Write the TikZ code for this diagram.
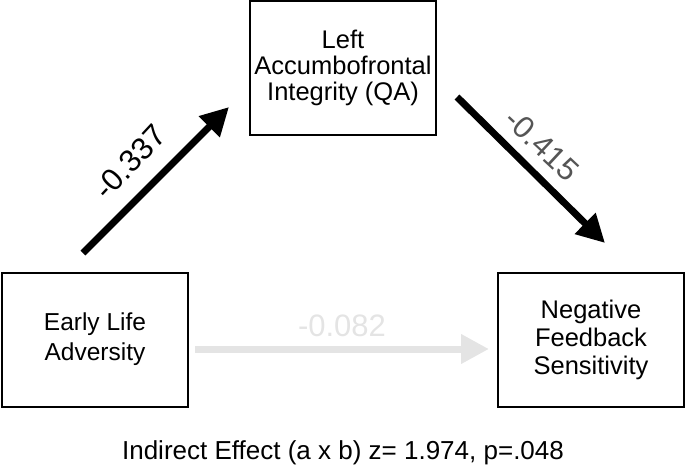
\documentclass[tikz,border=0pt]{standalone}
\usepackage{fontspec}
\setmainfont{Liberation Sans}
\usetikzlibrary{arrows.meta}
\definecolor{bpathgray}{HTML}{555555}
\definecolor{directgray}{HTML}{E4E4E4}
\tikzset{
  varbox/.style={draw, line width=2pt, minimum width=186pt, minimum height=134pt,
    align=center, inner sep=0pt, font=\fontsize{24.5}{27}\selectfont},
  patharrow/.style={line width=7pt, -{Triangle[length=28pt,width=28pt]}},
  coef/.style={font=\fontsize{31}{36}\selectfont, inner sep=0pt}
}
\begin{document}
\begin{tikzpicture}[x=1pt,y=-1pt]
  \useasboundingbox (0,0) rectangle (685,469);
  % the three variables
  \node[varbox, font=\fontsize{25.5}{26}\selectfont] (med) at (343,68) {Left\\Accumbofrontal\\Integrity (QA)};
  \node[varbox, font=\fontsize{24.5}{30}\selectfont] (ela) at (95,339.5) {Early Life\\Adversity};
  \node[varbox, font=\fontsize{25.5}{28}\selectfont] (nfs) at (591,339.5) {Negative\\Feedback\\Sensitivity};
  % arrow ends
  \coordinate (astart) at (83,253);
  \coordinate (aend) at (229,107);
  \coordinate (bstart) at (457,97);
  \coordinate (bend) at (605,243);
  \coordinate (cstart) at (195,349);
  \coordinate (cend) at (489,349);
  % paths a, b and c'
  \draw[patharrow] (astart) -- (aend);
  \draw[patharrow] (bstart) -- (bend);
  \draw[patharrow, directgray] (cstart) -- (cend);
  \node[coef, rotate=47] (acoef) at (130,162) {-0.337};
  \node[coef, rotate=-43, bpathgray] (bcoef) at (542,145) {-0.415};
  \node[coef, directgray] (ccoef) at (342,326) {-0.082};
  \node[font=\fontsize{26}{30}\selectfont, inner sep=0pt] (indirect) at (343,453)
    {Indirect Effect (a x b) z= 1.974, p=.048};
\end{tikzpicture}
\end{document}
